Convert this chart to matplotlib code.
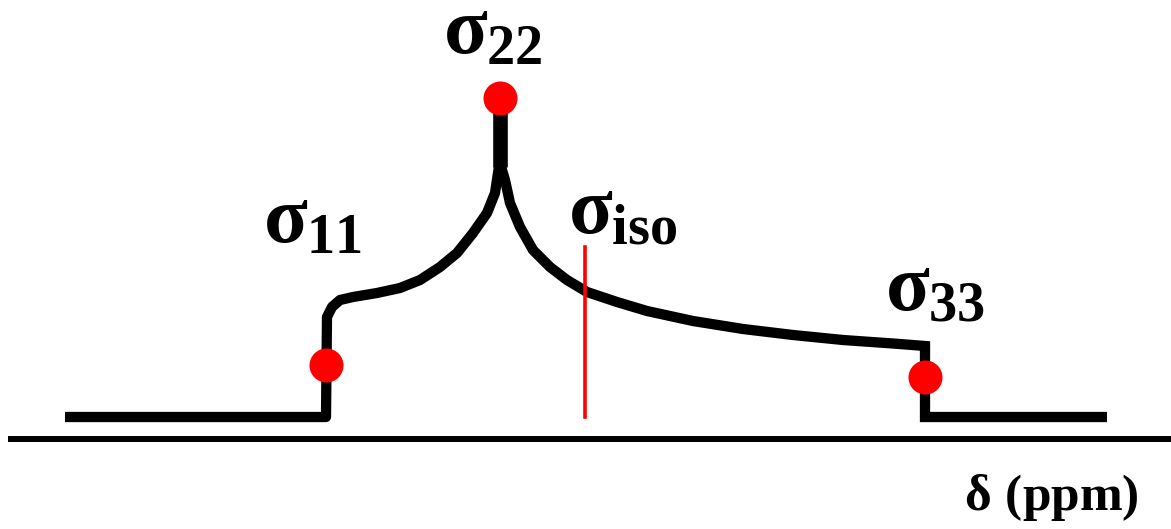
import numpy as np
import matplotlib
matplotlib.use("Agg")
import matplotlib.pyplot as plt

# powder pattern (x position, intensity above baseline)
left_x = [65, 326, 327, 332, 340, 353, 377, 400, 420, 440, 457, 473, 487, 495, 498, 500]
left_y = [0, 0, 100, 110, 117, 120, 124, 129, 137, 150, 164, 184, 204, 224, 244, 257]
right_x = [500, 502, 505, 510, 520, 533, 550, 567, 587, 617, 647, 693, 743, 793, 843, 893, 925, 925, 1107]
right_y = [257, 247, 237, 214, 190, 167, 150, 137, 125, 115, 106, 96, 88, 82, 77, 73.5, 71, 0, 0]
spike_x = [500, 500]
spike_y = [250, 317]

# principal components (red dots) and isotropic line
tensor_names = ["11", "22", "33"]
tensor_x = [326, 500, 925]
tensor_y = [52, 319, 40]
iso_x = 585
iso_top = 170

# labels: text, x, baseline y
labels = [
    (r"$\sigma_{11}$", 263, 174),
    (r"$\sigma_{22}$", 443, 363),
    (r"$\sigma_{\mathrm{iso}}$", 568, 184),
    (r"$\sigma_{33}$", 885, 107),
]
axis_y = -22
axis_label = (r"$\delta\ \mathrm{(ppm)}$", 964, -93)

plt.rcParams["mathtext.fontset"] = "custom"
plt.rcParams["mathtext.rm"] = "Liberation Serif:bold"
plt.rcParams["mathtext.it"] = "Liberation Serif:bold"
plt.rcParams["mathtext.bf"] = "Liberation Serif:bold"

fig = plt.figure(figsize=(11.71, 5.29), dpi=100)
ax = fig.add_axes([0, 0, 1, 1])
ax.set_xlim(0, 1171)
ax.set_ylim(-112, 417)
ax.axis("off")

ax.plot(left_x, left_y, color="black", lw=7.4, solid_joinstyle="round", solid_capstyle="butt")
ax.plot(right_x, right_y, color="black", lw=7.4, solid_joinstyle="miter", solid_capstyle="butt")
ax.plot(spike_x, spike_y, color="black", lw=10.5, solid_capstyle="butt")

ax.plot([iso_x, iso_x], [0, iso_top], color="red", lw=2.6)
ax.plot(tensor_x, tensor_y, "o", color="red", markersize=24.5, markeredgewidth=0, zorder=5)

ax.plot([8, 1171], [axis_y, axis_y], color="black", lw=4.3, solid_capstyle="butt")

for txt, x, y in labels:
    ax.text(x, y, txt, fontsize=58, ha="left", va="baseline")
ax.text(axis_label[1], axis_label[2], axis_label[0], fontsize=37, ha="left", va="baseline")

fig.savefig("out.png", dpi=100)
